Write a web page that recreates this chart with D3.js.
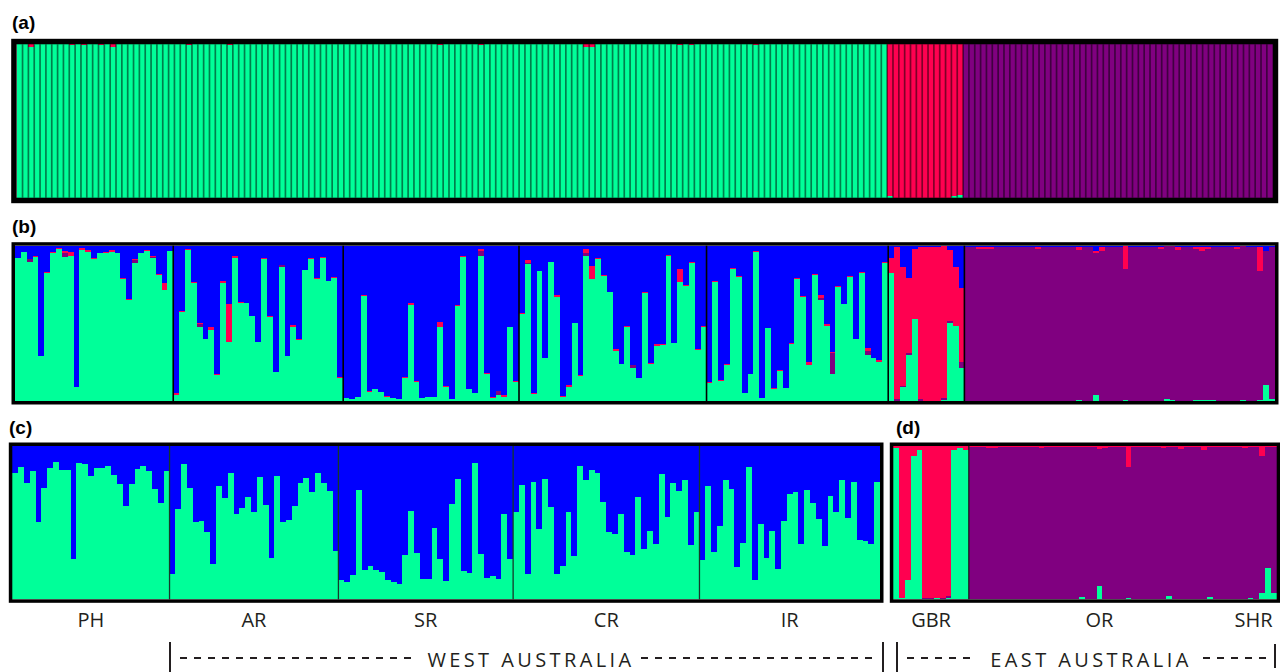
<!DOCTYPE html>
<html>
<head>
<meta charset="utf-8">
<script src="https://cdn.jsdelivr.net/npm/d3@7"></script>
<style>
body{margin:0;background:#fff;}
text{font-family:"Open Sans","DejaVu Sans",sans-serif;fill:#231f20;}
.plab{font-family:"Liberation Sans",Arial,sans-serif;font-weight:bold;fill:#000;}
</style>
</head>
<body>
<script>
// populations, in sample order
var popNames = ["PH","AR","SR","CR","IR","GBR","OR","SHR"];
var popSizes = [27,29,30,32,31,13,45,8];
var westPops = ["PH","AR","SR","CR","IR"];
var eastPops = ["GBR","OR","SHR"];
var panelLabels = ["(a)","(b)","(c)","(d)"];
var regionLabels = ["WEST AUSTRALIA","EAST AUSTRALIA"];
var colors = {green:"#00ff99", purple:"#800080", red:"#ff0050", blue:"#0000ff"};

// ---- (a) K=3, all individuals
var aGreen = [
 1,1,.985,1,1,1,1,1,1,.993, 1,.993,1,1,.993,1,.985,1,1,1, 1,1,1,1,1,1,1,1,1,.993, 1,1,1,1,1,1,.993,1,1,1,
 1,1,1,1,1,1,1,1,1,1, 1,1,1,1,1,1,1,1,1,1, 1,1,1,1,1,1,1,1,1,1, 1,1,.993,1,1,1,1,1,1,.993,
 1,1,1,1,1,1,1,1,1,1, 1,1,1,1,1,1,1,.985,.985,1, 1,1,1,1,1,1,1,1,1,1, 1,1,1,.993,1,.993,1,1,1,1,
 1,1,1,1,1,1,.993,1,1,1, 1,1,1,1,1,1,1,1,1,1, 1,1,1,1,1,1,1,1,1,
 .01,0,0,0,0,0,0,0,0,0,0,.01,.015,
 0,0,0,0,0,0,0,0,0,0, 0,0,0,0,0,0,0,0,0,0, 0,0,0,0,0,0,0,0,0,0, 0,0,0,0,0,0,0,0,0,0, 0,0,0,0,0,0,0,0,0,0, 0,0,0
];
var aRed = [
 0,0,.015,0,0,0,0,0,0,.007, 0,.007,0,0,.007,0,.015,0,0,0, 0,0,0,0,0,0,0,0,0,.007, 0,0,0,0,0,0,.007,0,0,0,
 0,0,0,0,0,0,0,0,0,0, 0,0,0,0,0,0,0,0,0,0, 0,0,0,0,0,0,0,0,0,0, 0,0,.007,0,0,0,0,0,0,.007,
 0,0,0,0,0,0,0,0,0,0, 0,0,0,0,0,0,0,.015,.015,0, 0,0,0,0,0,0,0,0,0,0, 0,0,0,.007,0,.007,0,0,0,0,
 0,0,0,0,0,0,.007,0,0,0, 0,0,0,0,0,0,0,0,0,0, 0,0,0,0,0,0,0,0,0,
 .99,1,1,1,1,1,1,1,1,1,1,.99,.985,
 0,0,0,0,0,0,0,0,0,0, 0,0,0,0,0,0,0,0,0,0, 0,0,0,0,0,0,0,0,0,0, 0,0,0,0,0,0,0,0,0,0, 0,0,0,0,0,0,0,0,0,0, 0,0,0
];
var aPurple = [
 0,0,0,0,0,0,0,0,0,0, 0,0,0,0,0,0,0,0,0,0, 0,0,0,0,0,0,0,0,0,0, 0,0,0,0,0,0,0,0,0,0,
 0,0,0,0,0,0,0,0,0,0, 0,0,0,0,0,0,0,0,0,0, 0,0,0,0,0,0,0,0,0,0, 0,0,0,0,0,0,0,0,0,0,
 0,0,0,0,0,0,0,0,0,0, 0,0,0,0,0,0,0,0,0,0, 0,0,0,0,0,0,0,0,0,0, 0,0,0,0,0,0,0,0,0,0,
 0,0,0,0,0,0,0,0,0,0, 0,0,0,0,0,0,0,0,0,0, 0,0,0,0,0,0,0,0,0,
 0,0,0,0,0,0,0,0,0,0,0,0,0,
 1,1,1,1,1,1,1,1,1,1, 1,1,1,1,1,1,1,1,1,1, 1,1,1,1,1,1,1,1,1,1, 1,1,1,1,1,1,1,1,1,1, 1,1,1,1,1,1,1,1,1,1, 1,1,1
];

// ---- (b) K=4, all individuals
var bGreen = [
 .918,.961,.897,.927,.292,.826,.955,.978,.929,.933,.092,.972,.961,.912,.955,.955,.961,.95,.785,.65,.886,.95,.966,.918,.811,.715,.968, // PH
 .039,.571,.972,.762,.479,.4,.457,.167,.762,.378,.923,.629,.629,.549,.378,.914,.539,.189,.86,.292,.479,.393,.843,.914,.785,.923,.775,.794,.15, // AR
 .017,.011,.024,.678,.06,.077,.06,.028,.017,.011,.15,.62,.124,.021,.024,.024,.474,.092,.011,.612,.929,.075,.049,.936,.172,.021,.039,.028,.479,.124, // SR
 .56,.88,.043,.837,.275,.897,.667,.028,.092,.5,.161,.936,.785,.914,.807,.704,.324,.238,.479,.215,.15,.697,.238,.356,.361,.936,.371,.768,.742,.886,.328,.479, // CR
 .114,.768,.129,.232,.85,.8,.054,.174,.961,.021,.472,.077,.193,.086,.365,.785,.672,.232,.811,.65,.485,.174,.736,.624,.8,.397,.822,.296,.279,.253,.886, // IR
 .826,0,.092,.296,.528,0,0,0,0,.006,.5,.485,.215, // GBR
 0,0,0,0,0,0,0,0,0,0, 0,0,0,0,0,0,0,0,0,.006, 0,0,.039,0,0,0,0,.006,0,0, 0,0,0,0,.013,.006,0,0,0,.006, .006,.006,.006,0,0,0,0,.006,0,0, .006,.103,.013 // OR, SHR
];
var bPurple = [
 0,0,.015,0,0,0,0,0,.021,0,0,0,0,0,0,0,0,0,0,0,.021,0,0,.01,0,0,0,
 0,0,0,0,.015,0,0,0,0,0,0,0,0,0,0,0,0,0,.015,0,0,0,0,0,0,0,0,0,0,
 0,0,0,0,0,0,0,0,0,0, 0,0,0,0,0,0,0,0,0,0, 0,0,0,.03,0,0,.026,0,0,0,
 0,.011,0,0,0,0,0,0,0,0, 0,.019,0,0,0,0,0,0,0,.017, 0,0,0,0,0,0,0,0,0,0, 0,0,
 0,0,0,0,0,0,0,0,0,0, 0,0,0,0,0,0,0,0,0,.015, 0,.137,0,0,0,0,0,.028,0,0, 0,
 0,.01,.006,.01,0,.01,0,0,0,.015,.015,0,.039,
 .99,.99,.98,.98,.98,.99,.99,.99,.99,.99, .99,.99,.98,.99,.99,.99,.99,.99,.99,.967, .99,.99,.914,.967,.99,.99,.99,.842,.99,.99,
 .99,.99,.99,.98,.987,.994,.973,.99,.99,.974, .961,.974,.984,.99,.99,.99,.98,.994,.99,.99, .832,.863,.977
];
var bRed = [
 0,0,.005,.006,0,.006,.006,.005,.015,.028,0,.01,.01,.01,0,.006,.01,0,.01,.01,.006,0,.006,.006,.006,.043,0,
 .01,.006,.006,.006,.006,0,.021,.01,.01,.245,.01,.01,0,0,0,.008,.008,0,0,0,.01,.006,0,.008,.008,.006,0,.006,.006,
 .004,0,.004,.006,.004,0,0,.006,.004,0,.006,.008,.004,0,.004,.004,.034,.006,0,.004,.006,0,.004,.013,.006,.006,0,.01,0,.004,
 .004,.017,.006,0,.004,0,.015,.004,.01,0,.006,.024,.084,.008,.004,0,.008,0,.006,0,0,.006,.006,.01,.006,.004,.004,.079,.004,.01,.004,.004,
 .008,.006,.006,.006,.006,.008,0,0,.006,0,0,.006,.006,0,.006,.01,.006,.021,.006,.017,.01,.006,.006,0,.006,.004,.006,.019,0,.01,.006,
 .097,.983,.766,.487,.451,.98,.99,.99,.99,.975,.457,.38,.476,
 0,0,.01,.01,.01,0,0,0,0,0, 0,0,.01,0,0,0,0,0,0,.017, 0,0,.013,.023,0,0,0,.152,0,0,
 0,0,0,.01,0,0,.017,0,0,.01, .023,.01,0,0,0,0,.01,0,0,0, .152,0,0
];
var bBlue = [
 .082,.039,.083,.067,.708,.168,.039,.017,.035,.039,.908,.018,.029,.078,.045,.039,.029,.05,.205,.34,.087,.05,.028,.066,.183,.242,.032,
 .951,.423,.022,.232,.5,.6,.522,.823,.228,.377,.067,.361,.371,.451,.622,.078,.453,.811,.125,.708,.511,.601,.157,.078,.207,.071,.225,.2,.844,
 .979,.989,.972,.316,.936,.923,.94,.966,.979,.989,.844,.372,.872,.979,.972,.972,.492,.902,.989,.384,.065,.925,.947,.021,.822,.973,.935,.962,.521,.872,
 .436,.092,.951,.163,.721,.103,.318,.968,.898,.5,.833,.021,.131,.078,.189,.296,.668,.762,.515,.768,.85,.297,.756,.634,.633,.06,.625,.153,.254,.104,.668,.517,
 .878,.226,.865,.762,.144,.192,.946,.826,.033,.979,.528,.917,.801,.914,.629,.205,.322,.747,.183,.318,.505,.683,.258,.376,.194,.599,.172,.657,.721,.737,.108,
 .077,.007,.136,.207,.021,.01,.01,.01,.01,.004,.028,.135,.27,
 .01,.01,.01,.01,.01,.01,.01,.01,.01,.01, .01,.01,.01,.01,.01,.01,.01,.01,.01,.01, .01,.01,.034,.01,.01,.01,.01,0,.01,.01,
 .01,.01,.01,.01,0,0,.01,.01,.01,.01, .01,.01,.01,.01,.01,.01,.01,0,.01,.01, .01,.034,.01
];

// ---- (c) K=2, west only
var cGreen = [
 .822,.861,.761,.837,.507,.728,.859,.893,.843,.843,.263,.891,.883,.807,.854,.859,.87,.811,.752,.611,.752,.85,.87,.837,.72,.63,.837,
 .165,.587,.883,.728,.507,.511,.441,.23,.739,.663,.826,.557,.598,.665,.572,.796,.615,.272,.804,.507,.517,.609,.761,.789,.702,.822,.761,.707,.315,
 .126,.115,.159,.713,.191,.217,.191,.18,.126,.111,.1,.289,.576,.3,.133,.133,.467,.263,.12,.622,.785,.185,.174,.891,.296,.141,.154,.133,.557,.263,
 .567,.746,.165,.767,.457,.785,.6,.163,.22,.567,.285,.87,.778,.843,.826,.635,.439,.428,.557,.311,.289,.665,.33,.446,.361,.817,.537,.761,.707,.778,.352,.57,
 .257,.739,.311,.478,.778,.72,.213,.37,.861,.126,.491,.272,.446,.198,.511,.687,.702,.361,.713,.626,.524,.348,.674,.572,.778,.533,.767,.387,.38,.361,.767
];
var cBlue = [
 .178,.139,.239,.163,.493,.272,.141,.107,.157,.157,.737,.109,.117,.193,.146,.141,.13,.189,.248,.389,.248,.15,.13,.163,.28,.37,.163,
 .835,.413,.117,.272,.493,.489,.559,.77,.261,.337,.174,.443,.402,.335,.428,.204,.385,.728,.196,.493,.483,.391,.239,.211,.298,.178,.239,.293,.685,
 .874,.885,.841,.287,.809,.783,.809,.82,.874,.889,.9,.711,.424,.7,.867,.867,.533,.737,.88,.378,.215,.815,.826,.109,.704,.859,.846,.867,.443,.737,
 .433,.254,.835,.233,.543,.215,.4,.837,.78,.433,.715,.13,.222,.157,.174,.365,.561,.572,.443,.689,.711,.335,.67,.554,.639,.183,.463,.239,.293,.222,.648,.43,
 .743,.261,.689,.522,.222,.28,.787,.63,.139,.874,.509,.728,.554,.802,.489,.313,.298,.639,.287,.374,.476,.652,.326,.428,.222,.467,.233,.613,.62,.639,.233
];

// ---- (d) K=3, east only
var dGreen = [
 .989,.011,.126,.937,.974,0,0,.007,0,.007,.974,.989,.974,
 0,0,0,0,0,0,0,0,0,0, 0,0,0,0,0,0,0,0,0,.017, 0,0,.089,0,0,0,0,.011,0,0,
 0,0,0,0,.024,0,0,0,0,0, 0,.017,0,0,0,0,0,0,.011,0, .043,.207,.043
];
var dPurple = [
 0,0,0,0,0,.011,.007,0,.011,.015,0,0,0,
 .992,.992,.992,.985,.985,.992,.992,.992,.992,.992, .992,.992,.985,.992,.992,.992,.992,.992,.992,.975, .992,.992,.891,.985,.992,.992,.992,.854,.992,.992,
 .992,.992,.992,.985,.968,.992,.98,.992,.992,.992, .974,.975,.992,.992,.992,.992,.992,.985,.981,.992, .894,.785,.949
];
var dRed = [
 .011,.989,.874,.063,.026,.989,.993,.993,.989,.978,.026,.011,.026,
 .008,.008,.008,.015,.015,.008,.008,.008,.008,.008, .008,.008,.015,.008,.008,.008,.008,.008,.008,.008, .008,.008,.02,.015,.008,.008,.008,.135,.008,.008,
 .008,.008,.008,.015,.008,.008,.02,.008,.008,.008, .026,.008,.008,.008,.008,.008,.008,.015,.008,.008, .063,.008,.008
];

var width = 1280;
var height = 672;

var svg = d3.select("body")
			.append("svg")
			.attr("width", width)
			.attr("height", height);

// individuals (pop + index) for a set of populations
function individuals(pops){
	var out = [];
	popNames.forEach(function(p, i){
		if(pops.indexOf(p) < 0) return;
		for(var k = 0; k < popSizes[i]; k++) out.push({pop: p, k: k});
	});
	return out;
}

function drawPanel(cfg){
	var ind = individuals(cfg.pops);
	var rows = ind.map(function(d, i){
		var r = {id: i, pop: d.pop};
		cfg.keys.forEach(function(key){ r[key] = cfg.series[key][i]; });
		return r;
	});

	var x = d3.scaleBand()
			.domain(rows.map(function(d){return d.id;}))
			.range([cfg.box[0], cfg.box[2]])
			.padding(0);
	var y = d3.scaleLinear()
			.domain([0, 1])
			.range([cfg.box[3], cfg.box[1]]);

	var layers = d3.stack()
			.keys(cfg.keys)
			.offset(d3.stackOffsetExpand)(rows);

	var g = svg.append("g");

	g.selectAll("g.layer")
		.data(layers)
		.enter()
			.append("g")
			.attr("fill", function(d){return colors[d.key];})
			.attr("shape-rendering", "crispEdges")
			.selectAll("rect")
			.data(function(d){return d;})
			.enter()
				.append("rect")
				.attr("x", function(d){return x(d.data.id);})
				.attr("width", x.bandwidth())
				.attr("y", function(d){return y(d[1]);})
				.attr("height", function(d){return Math.max(0, y(d[0]) - y(d[1]));});

	// dark lines between single bars (panel a)
	if(cfg.barLines){
		g.selectAll("line.bar")
			.data(rows.slice(1))
			.enter()
				.append("line")
				.attr("x1", function(d){return x(d.id);})
				.attr("x2", function(d){return x(d.id);})
				.attr("y1", cfg.box[1])
				.attr("y2", cfg.box[3])
				.attr("stroke", "rgba(0,0,0,0.5)")
				.attr("stroke-width", 1.7);
	}

	// population boundaries
	var starts = [];
	rows.forEach(function(d, i){
		if(i > 0 && rows[i-1].pop != d.pop && cfg.seps.indexOf(d.pop) >= 0) starts.push(d.id);
	});
	g.selectAll("line.sep")
		.data(starts)
		.enter()
			.append("line")
			.attr("x1", function(d){return x(d);})
			.attr("x2", function(d){return x(d);})
			.attr("y1", cfg.box[1])
			.attr("y2", cfg.box[3])
			.attr("stroke", cfg.sepColor)
			.attr("stroke-width", cfg.sepWidth);

	// frame
	var t = cfg.frame;
	g.append("rect")
		.attr("x", cfg.box[0] - t/2)
		.attr("y", cfg.box[1] - t/2)
		.attr("width", cfg.box[2] - cfg.box[0] + t)
		.attr("height", cfg.box[3] - cfg.box[1] + t)
		.attr("fill", "none")
		.attr("stroke", "#000")
		.attr("stroke-width", t);

	return {x: x, rows: rows};
}

drawPanel({
	box: [16.7, 44.3, 1272.7, 197.7], frame: 5.5,
	pops: popNames, keys: ["green","purple","red"],
	series: {green: aGreen, purple: aPurple, red: aRed},
	barLines: true, seps: [], sepColor: "#000", sepWidth: 0
});

drawPanel({
	box: [15, 245.7, 1275, 401], frame: 3.5,
	pops: popNames, keys: ["green","purple","red","blue"],
	series: {green: bGreen, purple: bPurple, red: bRed, blue: bBlue},
	barLines: false, seps: ["AR","SR","CR","IR","GBR","OR"], sepColor: "#000", sepWidth: 1.6
});

var pc = drawPanel({
	box: [12.3, 446, 880, 599.3], frame: 3.5,
	pops: westPops, keys: ["green","blue"],
	series: {green: cGreen, blue: cBlue},
	barLines: false, seps: ["AR","SR","CR","IR"], sepColor: "#143a2a", sepWidth: 1.3
});

var pd = drawPanel({
	box: [893.3, 446, 1276.7, 599.3], frame: 3.5,
	pops: eastPops, keys: ["green","purple","red"],
	series: {green: dGreen, purple: dPurple, red: dRed},
	barLines: false, seps: ["OR"], sepColor: "#1a1a1a", sepWidth: 1.3
});

// panel letters
var letterPos = [[12, 29], [12, 233], [9, 434], [896, 434]];
svg.selectAll("text.plab")
	.data(panelLabels)
	.enter()
		.append("text")
		.attr("class", "plab")
		.attr("x", function(d, i){return letterPos[i][0];})
		.attr("y", function(d, i){return letterPos[i][1];})
		.attr("font-size", "19px")
		.text(function(d){return d;});

// population names under (c) and (d)
function popCenters(p){
	var names = [];
	p.rows.forEach(function(d){ if(names.indexOf(d.pop) < 0) names.push(d.pop); });
	return names.map(function(n){
		var ids = p.rows.filter(function(d){return d.pop == n;}).map(function(d){return d.id;});
		var x0 = p.x(ids[0]), x1 = p.x(ids[ids.length-1]) + p.x.bandwidth();
		return {name: n, cx: (x0 + x1) / 2};
	});
}
var centers = popCenters(pc).concat(popCenters(pd));
svg.selectAll("text.pop")
	.data(centers)
	.enter()
		.append("text")
		.attr("x", function(d){return d.cx;})
		.attr("y", 627)
		.attr("text-anchor", "middle")
		.attr("font-size", "20px")
		.text(function(d){return d.name;});

// region brackets
var regY = 658;
var regions = [
	{label: regionLabels[0], bars: [[170, 642, 672], [883, 642, 672]], dashes: [[180, 416], [641, 878]], cx: 529},
	{label: regionLabels[1], bars: [[897, 642, 672], [1275, 644, 668]], dashes: [[907, 972], [1203, 1266]], cx: 1089}
];
regions.forEach(function(r){
	r.bars.forEach(function(b){
		svg.append("line")
			.attr("x1", b[0]).attr("x2", b[0])
			.attr("y1", b[1]).attr("y2", b[2])
			.attr("stroke", "#231f20")
			.attr("stroke-width", 2);
	});
	r.dashes.forEach(function(s){
		svg.append("line")
			.attr("x1", s[0]).attr("x2", s[1])
			.attr("y1", regY).attr("y2", regY)
			.attr("stroke", "#231f20")
			.attr("stroke-width", 2)
			.attr("stroke-dasharray", "7,7");
	});
	svg.append("text")
		.attr("x", r.cx + 2)
		.attr("y", regY + 9)
		.attr("text-anchor", "middle")
		.attr("font-size", "20px")
		.attr("letter-spacing", "3.4px")
		.text(r.label);
});
</script>
</body>
</html>
